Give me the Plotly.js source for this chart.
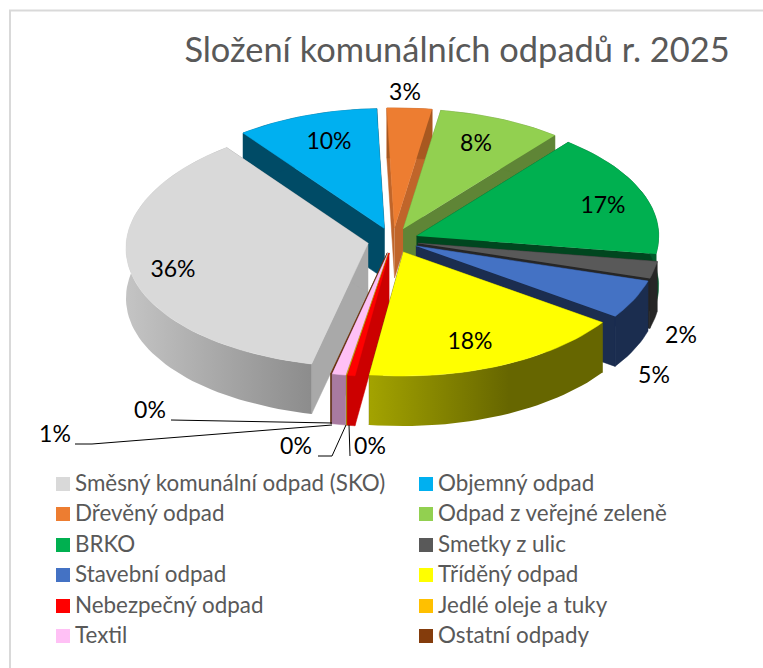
<!DOCTYPE html>
<html>
<head>
<meta charset="utf-8">
<script src="https://cdn.plot.ly/plotly-3.0.1.min.js"></script>
<style>html,body{margin:0;padding:0;background:#fff;overflow:hidden}</style>
</head>
<body>
<div id="chart" style="width:763px;height:668px"></div>
<script>
// ---- data (clockwise order) ----
const categories = ["Směsný komunální odpad (SKO)","Objemný odpad","Dřevěný odpad","Odpad z veřejné zeleně","BRKO","Smetky z ulic","Stavební odpad","Tříděný odpad","Nebezpečný odpad","Jedlé oleje a tuky","Textil","Ostatní odpady"];
const values = [37.2,10.1,3.1,8.55,17.1,2.3,5.2,18.1,0.49,0.05,0.9,0.05];
// ---- styles ----
const topColors = ["#d9d9d9","#00b0f0","#ed7d31","#92d050","#00b050","#595959","#4472c4","#ffff00","#ff0000","#ffc000","#ffc0f5","#843c0c"];
const wallColors = ["#a9a9a9","#004b66","#c0652a","#5f8536","#00461f","#262626","#1b2d4f","#6b6b00","#cc0000","#a67c00","#a87aa0","#5a2a08"];
const rimColors = ["#a5a5a5","#004b66","#a85820","#5f8536","#005a2b","#262626","#1b2d4f","#6b6b00","#cc0000","#a67c00","#a87aa0","#5a2a08"];
const rimGradients = {0:[[0,"#c4c4c4"],[1,"#8c8c8c"]],7:[[0,"#a3a300"],[0.6,"#666600"],[1,"#666600"]]};
const startAngle = 193, cx = 393, cy = 240.5, rx = 242, ryBack = 120, ryFront = 124, depth = 50, explode = 0.105, narrowing = 0.04;
const paintOrder = [1,2,3,4,5,6,0,11,10,9,8,7];
const labelAt = [[173,271],[329,143],[405,94],[476,145],[603,207],[681,337],[654,377],[470,343],[370,448],[296,448],[55,436],[150,412]];
const leaders = {8:[[350,456],[349,425]],9:[[318,456],[332,456],[346,425]],10:[[75,444],[92,444],[332,425]],11:[[171,420],[332,423]]};
const legendCols = [63,426], legendRows = [484,514,545,575,606,636], legendTextGap = 12, legendTextDrop = 1.5;
const font = "Lato, Carlito, sans-serif";

const total = values.reduce((a,b)=>a+b,0);
const rad = d => d*Math.PI/180;
const traces = [];
const poly = (pts,color,extra) => traces.push(Object.assign({
  type:"scatter",mode:"lines",x:pts.map(p=>p[0]),y:pts.map(p=>p[1]),fill:"toself",
  fillcolor:color,line:{width:0.5,color:color},hoverinfo:"skip",showlegend:false},extra||{}));

let a = startAngle;
const slices = values.map(v=>{const s={a0:a,a1:a+v/total*360};a=s.a1;return s;});
paintOrder.forEach(i=>{
  const {a0,a1} = slices[i], m = rad((a0+a1)/2);
  const ax = cx+explode*rx*Math.sin(m), ay = cy-explode*ryBack*Math.cos(m);
  const on = t => {
    const c = Math.cos(rad(t)), s = Math.sin(rad(t));
    return [ax+rx*s*(s<0?1-narrowing*c:1), ay-(c>0?ryBack:ryFront)*c];
  };
  const n = Math.max(2,Math.ceil((a1-a0)/2));
  const arc = [];
  for(let k=0;k<=n;k++) arc.push(on(a0+(a1-a0)*k/n));
  const down = p => [p[0],p[1]+depth];
  // cut walls
  poly([[ax,ay],arc[0],down(arc[0]),[ax,ay+depth]],wallColors[i]);
  poly([[ax,ay],arc[n],down(arc[n]),[ax,ay+depth]],wallColors[i]);
  // rim
  const rimPts = arc.concat(arc.slice().reverse().map(down));
  if(rimGradients[i]){
    poly(rimPts,rimColors[i],{line:{width:0},fillgradient:{type:"horizontal",colorscale:rimGradients[i]}});
  } else poly(rimPts,rimColors[i]);
  // top
  poly([[ax,ay]].concat(arc),topColors[i]);
});
// leader lines
Object.values(leaders).forEach(pts=>traces.push({type:"scatter",mode:"lines",x:pts.map(p=>p[0]),y:pts.map(p=>p[1]),line:{color:"#000",width:1},hoverinfo:"skip",showlegend:false}));
// percentage labels
traces.push({type:"scatter",mode:"text",x:labelAt.map(p=>p[0]),y:labelAt.map(p=>p[1]),
  text:values.map(v=>Math.round(v/total*100)+"%"),textposition:"middle center",
  textfont:{family:font,size:23,color:"#000"},hoverinfo:"skip",showlegend:false,cliponaxis:false});
// legend swatches and names
const legX = categories.map((c,i)=>legendCols[i%2]), legY = categories.map((c,i)=>legendRows[Math.floor(i/2)]);
traces.push({type:"scatter",mode:"markers",x:legX,y:legY,
  marker:{symbol:"square",size:14,color:topColors,line:{width:0}},hoverinfo:"skip",showlegend:false,cliponaxis:false});
traces.push({type:"scatter",mode:"text",x:legX.map(x=>x+legendTextGap),y:legY.map(y=>y+legendTextDrop),
  text:categories,textposition:"middle right",
  textfont:{family:font,size:22.4,color:"#595959"},hoverinfo:"text",showlegend:false,cliponaxis:false});

const layout = {
  width:763,height:668,margin:{l:0,r:0,t:0,b:0},showlegend:false,
  paper_bgcolor:"#fff",plot_bgcolor:"#fff",
  title:{text:"Složení komunálních odpadů r. 2025",font:{family:font,size:34.4,color:"#595959"},x:457/763,xanchor:"center",y:1-50/668,yanchor:"middle"},
  xaxis:{range:[0,763],visible:false,fixedrange:true},
  yaxis:{range:[668,0],visible:false,fixedrange:true},
  shapes:[{type:"rect",xref:"x",yref:"y",x0:10,y0:10.5,x1:790,y1:700,line:{color:"#d9d9d9",width:2},layer:"below"}]
};
Plotly.newPlot("chart",traces,layout,{displayModeBar:false,staticPlot:true});
</script>
</body>
</html>
